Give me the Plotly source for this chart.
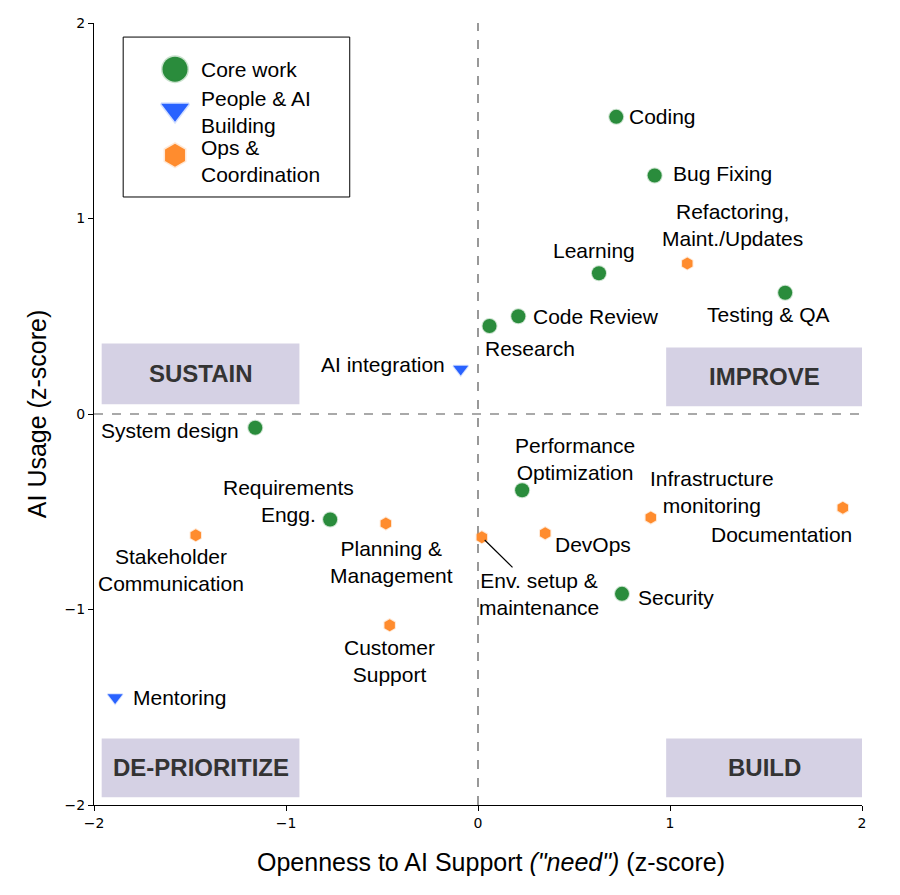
import plotly.graph_objects as go

# ---- data ----
core_names = ["Coding", "Bug Fixing", "Learning", "Testing & QA", "Code Review", "Research",
              "System design", "Performance<br>Optimization", "Requirements<br>Engg.", "Security"]
core_x = [0.72, 0.92, 0.63, 1.60, 0.21, 0.06, -1.16, 0.23, -0.77, 0.75]
core_y = [1.52, 1.22, 0.72, 0.62, 0.50, 0.45, -0.07, -0.39, -0.54, -0.92]

people_names = ["AI integration", "Mentoring"]
people_x = [-0.09, -1.89]
people_y = [0.23, -1.45]

ops_names = ["Refactoring,<br>Maint./Updates", "Planning &<br>Management", "Stakeholder<br>Communication",
             "Env. setup &<br>maintenance", "DevOps", "Infrastructure<br>monitoring", "Documentation",
             "Customer<br>Support"]
ops_x = [1.09, -0.48, -1.47, 0.02, 0.35, 0.90, 1.90, -0.46]
ops_y = [0.77, -0.56, -0.62, -0.63, -0.61, -0.53, -0.48, -1.08]

quadrants = ["SUSTAIN", "IMPROVE", "DE-PRIORITIZE", "BUILD"]
quad_x0 = [-1.96, 0.98, -1.96, 0.98]
quad_x1 = [-0.93, 2.0, -0.93, 2.0]
quad_y0 = [0.05, 0.04, -1.96, -1.96]
quad_y1 = [0.36, 0.34, -1.66, -1.66]

legend_names = ["Core work", "People & AI<br>Building", "Ops &<br>Coordination"]

x_title = 'Openness to AI Support <i>("need")</i> (z-score)'
y_title = "AI Usage (z-score)"

# label placement (pixel offsets from marker): (xshift, yshift, xanchor)
core_off = [(11, 0, "left"), (16, 2, "left"), (-5, 23, "center"), (-17, -22, "center"),
            (13, 0, "left"), (-7, -22, "left"), (-14, -3, "right"), (53, 31, "center"),
            (-42, 19, "center"), (14, -4, "left")]
people_off = [(-14, 5, "right"), (16, 0, "left")]
ops_off = [(45, 38, "center"), (6, -39, "center"), (-25, -35, "center"), (0, 0, "center"),
           (8, -11, "left"), (61, 26, "center"), (-61, -27, "center"), (0, -36, "center")]

GREEN = "#2a8c3c"
BLUE = "#2962ff"
ORANGE = "#ff8c2e"
FONT = "Liberation Sans, Arial, sans-serif"

fig = go.Figure()

# quadrant boxes
for name, x0, x1, y0, y1 in zip(quadrants, quad_x0, quad_x1, quad_y0, quad_y1):
    fig.add_shape(type="rect", x0=x0, x1=x1, y0=y0, y1=y1, xref="x", yref="y",
                  fillcolor="#d5d1e4", line=dict(width=0), layer="below")
    fig.add_annotation(x=(x0 + x1) / 2, y=(y0 + y1) / 2, text="<b>%s</b>" % name, showarrow=False,
                       font=dict(family=FONT, size=24, color="#333333"))

# reference lines
fig.add_shape(type="line", x0=0, x1=0, y0=-2, y1=2, xref="x", yref="y",
              line=dict(color="#555555", width=1.2, dash="dash"), layer="below")
fig.add_shape(type="line", x0=-2, x1=2, y0=0, y1=0, xref="x", yref="y",
              line=dict(color="#555555", width=1.2, dash="dash"), layer="below")

styles = [
    dict(symbol="circle", color=GREEN, halo="rgba(42,140,60,0.25)", size=14, lsize=25),
    dict(symbol="triangle-down", color=BLUE, halo="rgba(41,98,255,0.2)", size=13, lsize=24),
    dict(symbol="hexagon", color=ORANGE, halo="rgba(255,140,46,0.2)", size=12, lsize=23),
]
for st, xs, ys in zip(styles, [core_x, people_x, ops_x], [core_y, people_y, ops_y]):
    fig.add_trace(go.Scatter(x=xs, y=ys, mode="markers", showlegend=False,
                             marker=dict(symbol=st["symbol"], size=st["size"], color=st["color"],
                                         line=dict(color=st["halo"], width=2))))

def add_labels(names, xs, ys, offs):
    for n, x, y, (dx, dy, anc) in zip(names, xs, ys, offs):
        if n.startswith("Env."):
            continue
        fig.add_annotation(x=x, y=y, text=n, showarrow=False, xanchor=anc, yanchor="middle",
                           xshift=dx, yshift=dy, font=dict(family=FONT, size=21, color="black"))

add_labels(core_names, core_x, core_y, core_off)
add_labels(people_names, people_x, people_y, people_off)
add_labels(ops_names, ops_x, ops_y, ops_off)

# Env. setup label with connector
i = ops_names.index("Env. setup &<br>maintenance")
fig.add_annotation(x=ops_x[i], y=ops_y[i], text=ops_names[i], showarrow=True, arrowhead=0,
                   arrowwidth=1.2, arrowcolor="black", axref="x", ayref="y",
                   ax=ops_x[i] + 0.30, ay=ops_y[i] - 0.29, standoff=4,
                   font=dict(family=FONT, size=21, color="black"))

# ---- hand-built legend (in paper-like coordinates via overlay axes) ----
fig.add_shape(type="rect", xref="paper", yref="paper", x0=0.038, x1=0.333, y0=0.7775, y1=0.982,
              line=dict(color="black", width=1), fillcolor="white", layer="below")
leg_mx = [0.1055, 0.1055, 0.1055]
leg_my = [0.941, 0.889, 0.831]
leg_ty = [0.941, 0.8868, 0.8229]
for st, mx, my in zip(styles, leg_mx, leg_my):
    fig.add_trace(go.Scatter(x=[mx], y=[my], xaxis="x2", yaxis="y2", mode="markers", showlegend=False,
                             hoverinfo="skip",
                             marker=dict(symbol=st["symbol"], size=st["lsize"], color=st["color"],
                                         line=dict(color=st["halo"], width=3))))
for name, ty in zip(legend_names, leg_ty):
    fig.add_annotation(xref="paper", yref="paper", x=0.137, y=ty, text=name, showarrow=False,
                       xanchor="left", yanchor="middle", align="left",
                       font=dict(family=FONT, size=21, color="black"))

# x-axis title (placed as annotation to match the reference's horizontal offset)
fig.add_annotation(xref="paper", yref="paper", x=0.517, y=0, yshift=-57, text=x_title,
                   showarrow=False, xanchor="center", yanchor="middle",
                   font=dict(family=FONT, size=25, color="black"))

tick_vals = [-2, -1, 0, 1, 2]
tick_text = ["−2", "−1", "0", "1", "2"]
axis_common = dict(range=[-2, 2], tickvals=tick_vals, ticktext=tick_text, automargin=False,
                   showgrid=False, zeroline=False, showline=True, linecolor="black", linewidth=1,
                   ticks="outside", ticklen=5, tickcolor="black",
                   tickfont=dict(family="DejaVu Sans", size=14, color="black"))

fig.update_layout(
    width=884, height=879,
    margin=dict(l=86, r=30, t=15, b=82),
    plot_bgcolor="white", paper_bgcolor="white",
    showlegend=False,
    xaxis=dict(**axis_common),
    yaxis=dict(**axis_common, title=dict(text=y_title, font=dict(family=FONT, size=25, color="black"),
                                         standoff=10)),
    xaxis2=dict(range=[0, 1], overlaying="x", visible=False, fixedrange=True),
    yaxis2=dict(range=[0, 1], overlaying="y", visible=False, fixedrange=True),
)

fig.write_html("out.html")
